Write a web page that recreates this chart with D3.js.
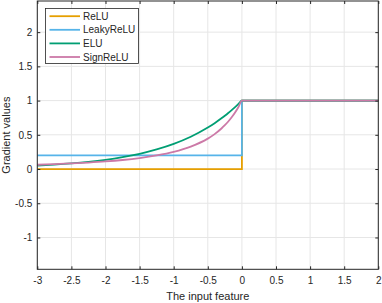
<!DOCTYPE html>
<html><head><meta charset="utf-8">
<script src="https://cdn.jsdelivr.net/npm/d3@7"></script>
<style>body{margin:0;background:#fff}svg{display:block}text{font-family:"Liberation Sans",Arial,sans-serif;fill:#262626}</style>
</head><body>
<script>
const xTicks = [-3, -2.5, -2, -1.5, -1, -0.5, 0, 0.5, 1, 1.5, 2];
const yTicks = [-1, -0.5, 0, 0.5, 1, 1.5, 2];
const seriesNames = ["ReLU", "LeakyReLU", "ELU", "SignReLU"];
const seriesColors = ["#E69F00", "#56B4E9", "#009E73", "#CC79A7"];
const reluX = [-3, 0, 0, 2];
const reluY = [0, 0, 1, 1];
const leakyX = [-3, 0, 0, 2];
const leakyY = [0.2, 0.2, 1, 1];
const curveX = [-3, -2.75, -2.5, -2.25, -2, -1.75, -1.5, -1.25, -1, -0.75, -0.5, -0.4, -0.3, -0.25, -0.2, -0.15, -0.1, -0.05, 0, 2];
const eluY = [0.050, 0.064, 0.082, 0.105, 0.135, 0.174, 0.223, 0.287, 0.368, 0.472, 0.607, 0.670, 0.741, 0.779, 0.819, 0.861, 0.905, 0.951, 1, 1];
const signY = [0.0625, 0.071, 0.082, 0.095, 0.111, 0.132, 0.160, 0.198, 0.250, 0.327, 0.444, 0.510, 0.592, 0.640, 0.694, 0.756, 0.826, 0.907, 1, 1];

const W = 382, H = 303;
const L = 37.3, R = 378.3, T = 1, B = 269.3;
const svg = d3.select("body").append("svg").attr("width", W).attr("height", H);
const x = d3.scaleLinear().domain([-3, 2]).range([L, R]);
const y = d3.scaleLinear().domain([-1.465, 2.455]).range([B, T]);

// grid
const g = svg.append("g");
g.selectAll(".gx").data(xTicks).join("line")
  .attr("x1", d => x(d)).attr("x2", d => x(d)).attr("y1", T).attr("y2", B)
  .attr("stroke", "#e6e6e6").attr("stroke-width", 1);
g.selectAll(".gy").data(yTicks).join("line")
  .attr("y1", d => y(d)).attr("y2", d => y(d)).attr("x1", L).attr("x2", R)
  .attr("stroke", "#e6e6e6").attr("stroke-width", 1);

// lines
const seriesData = [
  reluX.map((v, i) => [v, reluY[i]]),
  leakyX.map((v, i) => [v, leakyY[i]]),
  curveX.map((v, i) => [v, eluY[i]]),
  curveX.map((v, i) => [v, signY[i]])
];
const lineStraight = d3.line().x(d => x(d[0])).y(d => y(d[1]));
const lineCurve = d3.line().x(d => x(d[0])).y(d => y(d[1])).curve(d3.curveMonotoneX);
seriesData.forEach((s, i) => {
  svg.append("path").attr("d", (i < 2 ? lineStraight : lineCurve)(s))
    .attr("fill", "none").attr("stroke", seriesColors[i]).attr("stroke-width", 1.8)
    .attr("stroke-linejoin", "miter");
});

// axes
const axCol = "#262626";
const xa = svg.append("g").attr("transform", `translate(0,${B})`)
  .call(d3.axisBottom(x).tickValues(xTicks).tickSize(-3).tickPadding(8).tickFormat(d => String(d)));
const xt = svg.append("g").attr("transform", `translate(0,${T})`)
  .call(d3.axisTop(x).tickValues(xTicks).tickSize(-3).tickFormat(""));
const ya = svg.append("g").attr("transform", `translate(${L},0)`)
  .call(d3.axisLeft(y).tickValues(yTicks).tickSize(-3).tickPadding(5).tickFormat(d => String(d)));
const yr = svg.append("g").attr("transform", `translate(${R},0)`)
  .call(d3.axisRight(y).tickValues(yTicks).tickSize(-3).tickFormat(""));
[xa, xt, ya, yr].forEach(a => {
  a.select(".domain").remove();
  a.selectAll("line").attr("stroke", axCol);
  a.selectAll("text").attr("font-size", 10).attr("font-family", '"Liberation Sans",Arial,sans-serif').attr("fill", axCol);
});
svg.append("rect").attr("x", L).attr("y", T).attr("width", R - L).attr("height", B - T)
  .attr("fill", "none").attr("stroke", axCol).attr("stroke-width", 1);

// labels
svg.append("text").attr("x", (L + R) / 2).attr("y", 300).attr("text-anchor", "middle")
  .attr("font-size", 11).text("The input feature");
svg.append("text").attr("transform", `translate(10,${(T + B) / 2}) rotate(-90)`).attr("text-anchor", "middle")
  .attr("font-size", 11).text("Gradient values");

// legend
const lg = svg.append("g");
lg.append("rect").attr("x", 45.5).attr("y", 8.5).attr("width", 93).attr("height", 55)
  .attr("fill", "#fff").attr("stroke", axCol).attr("stroke-width", 0.8);
seriesNames.forEach((n, i) => {
  const yy = 16.2 + i * 13.6;
  lg.append("line").attr("x1", 49.5).attr("x2", 80).attr("y1", yy).attr("y2", yy)
    .attr("stroke", seriesColors[i]).attr("stroke-width", 1.8);
  lg.append("text").attr("x", 83).attr("y", yy + 3.6).attr("font-size", 10).text(n);
});
</script>
</body></html>
